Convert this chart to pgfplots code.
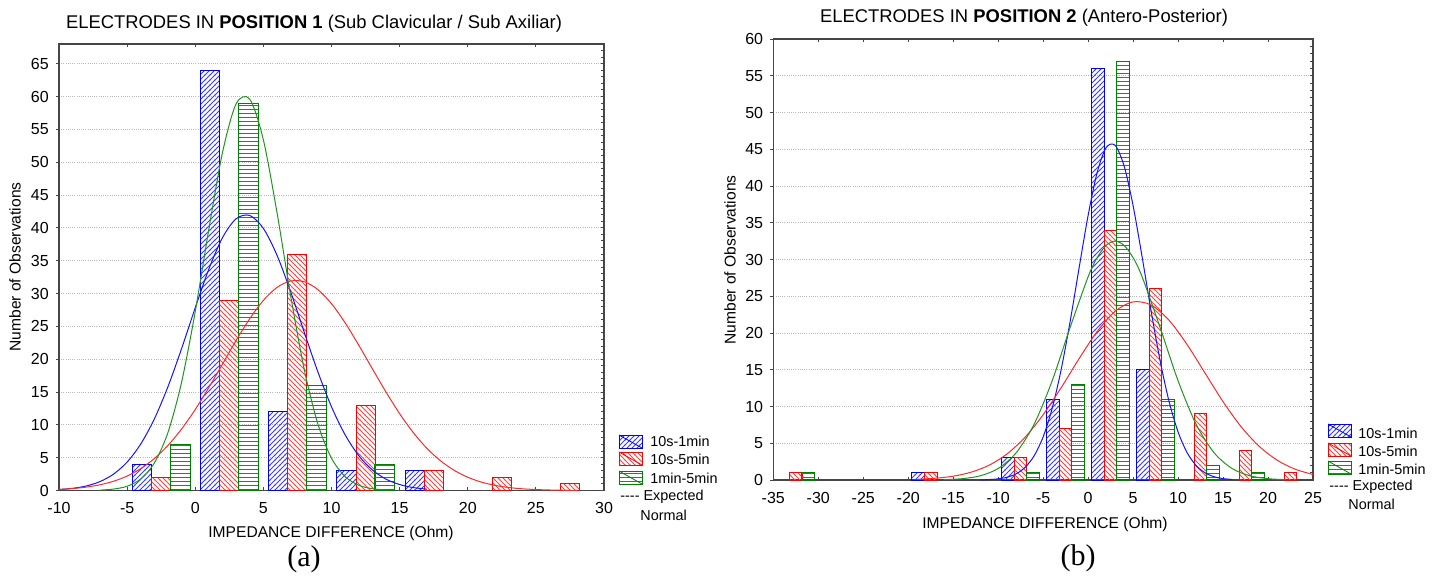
\documentclass[border=0pt]{standalone}
\usepackage{fontspec}
\setmainfont{Liberation Sans}
\newfontfamily\seriffont{Liberation Serif}
\usepackage{pgfplots}
\pgfplotsset{compat=1.18}
\usetikzlibrary{patterns}
\definecolor{sblue}{RGB}{0,0,255}
\definecolor{sred}{RGB}{255,0,0}
\definecolor{sgreen}{RGB}{0,128,0}
\definecolor{pblue}{RGB}{60,60,255}
\definecolor{pred}{RGB}{255,70,70}
\definecolor{pgreen}{RGB}{30,140,30}
\definecolor{cblue}{RGB}{20,20,255}
\definecolor{cred}{RGB}{255,40,40}
\definecolor{cgreen}{RGB}{30,150,30}
\definecolor{axgray}{RGB}{70,70,70}
\definecolor{gridgray}{RGB}{185,185,185}

% colour-baked hatch patterns
\pgfdeclarepatterninherentlycolored{hblue}{\pgfqpoint{-0.5pt}{-0.5pt}}{\pgfqpoint{3pt}{3pt}}{\pgfqpoint{2.5pt}{2.5pt}}{%
  \pgfsetcolor{pblue}\pgfsetlinewidth{0.4pt}%
  \pgfpathmoveto{\pgfqpoint{-0.3pt}{-0.3pt}}\pgfpathlineto{\pgfqpoint{2.8pt}{2.8pt}}\pgfusepath{stroke}}
\pgfdeclarepatterninherentlycolored{hred}{\pgfqpoint{-0.5pt}{-0.5pt}}{\pgfqpoint{3pt}{3pt}}{\pgfqpoint{2.5pt}{2.5pt}}{%
  \pgfsetcolor{pred}\pgfsetlinewidth{0.4pt}%
  \pgfpathmoveto{\pgfqpoint{-0.3pt}{2.8pt}}\pgfpathlineto{\pgfqpoint{2.8pt}{-0.3pt}}\pgfusepath{stroke}}
\pgfdeclarepatterninherentlycolored{hgreen}{\pgfqpoint{-0.2pt}{0pt}}{\pgfqpoint{2.2pt}{2pt}}{\pgfqpoint{2pt}{2pt}}{%
  \pgfsetcolor{pgreen}\pgfsetlinewidth{0.5pt}%
  \pgfpathmoveto{\pgfqpoint{-0.2pt}{1pt}}\pgfpathlineto{\pgfqpoint{2.2pt}{1pt}}\pgfusepath{stroke}}

\pgfplotsset{
  hist/.style={
    scale only axis,
    ymin=0,
    tick label style={font=\fontsize{8}{9}\selectfont},
    xticklabel style={yshift=-2.5pt},
    /pgf/number format/assume math mode=true,
    axis line style={axgray, line width=0.6pt},
    xtick pos=both, ytick pos=left,
    xtick align=inside, ytick align=outside,
    major tick length=1.6pt,
    tick style={axgray, line width=0.5pt},
    ymajorgrids,
    major grid style={gridgray, line width=0.5pt, dash pattern=on 0.5pt off 0.6pt},
    clip=true,
  },
  rticks/.style={
    scale only axis,
    axis line style={draw=none},
    xtick=\empty,
    ytick pos=right,
    yticklabels={},
    tick align=inside,
    major tick length=1.6pt,
    tick style={axgray, line width=0.5pt},
  },
  bblue/.style={ybar, bar width=1.4, bar shift=0pt, draw=sblue, line width=0.5pt, pattern=hblue},
  bred/.style={ybar, bar width=1.4, bar shift=0pt, draw=sred, line width=0.5pt, pattern=hred},
  bgreen/.style={ybar, bar width=1.45, bar shift=0pt, draw=sgreen, line width=0.5pt, pattern=hgreen},
}

\newcommand{\legbox}[4]{%
  \path[pattern=#3] (#1,#2) rectangle ++(11.5pt,-6.5pt);
  \draw[#4, line width=0.5pt] (#1,#2) rectangle ++(11.5pt,-6.5pt);
  \draw[#4, line width=0.4pt] (#1,#2) -- ++(11.5pt,-6.5pt);
}

\begin{document}
\begin{tikzpicture}
\useasboundingbox (0,0) rectangle (719.5pt,-287.5pt);

% ---------------- Panel (a) ----------------
\begin{axis}[hist, at={(29.5pt,-245.25pt)}, anchor=south west,
  width=272.5pt, height=223.25pt,
  xmin=-10, xmax=30, ymax=68,
  xtick={-10,-5,...,30}, ytick={0,5,...,65}]
\addplot[bblue] coordinates {(-3.9,4) (1.1,64) (6.1,12) (11.1,3) (16.1,3)};
\addplot[bred] coordinates {(-2.5,2) (2.5,29) (7.5,36) (12.5,13) (17.5,3) (22.5,2) (27.5,1)};
\addplot[bgreen] coordinates {(-1.1,7) (3.9,59) (8.9,16) (13.9,4)};
\addplot[cblue, line width=0.5pt, smooth, no markers] coordinates {
(-10,0.15)(-9,0.33)(-8,0.69)(-7,1.35)(-6,2.49)(-5,4.33)(-4,7.08)(-3,10.91)(-2,15.83)(-1,21.63)(0,27.84)(1,33.74)(2,38.51)(3,41.39)(4,41.89)(5,39.92)(6,35.83)(7,30.29)(8,24.10)(9,18.07)(10,12.75)(11,8.48)(12,5.31)(13,3.13)(14,1.73)(15,0.91)(16,0.45)(17,0.21)};
\addplot[cred, line width=0.5pt, smooth, no markers] coordinates {
(-10,0.16)(-9,0.30)(-8,0.52)(-7,0.87)(-6,1.41)(-5,2.20)(-4,3.33)(-3,4.87)(-2,6.88)(-1,9.37)(0,12.34)(1,15.69)(2,19.26)(3,22.85)(4,26.17)(5,28.95)(6,30.93)(7,31.91)(8,31.80)(9,30.60)(10,28.45)(11,25.54)(12,22.14)(13,18.54)(14,15.00)(15,11.71)(16,8.83)(17,6.43)(18,4.53)(19,3.08)(20,2.02)(21,1.28)(22,0.78)(23,0.46)(24,0.26)(25,0.15)(26,0.08)(27,0.04)(28,0.02)};
\addplot[cgreen, line width=0.5pt, smooth, no markers] coordinates {
(-7,0.06)(-6,0.22)(-5,0.65)(-4,1.76)(-3,4.20)(-2,8.85)(-1,16.52)(0,27.26)(1,39.83)(2,51.48)(3,58.89)(4,59.61)(5,53.40)(6,42.33)(7,29.70)(8,18.43)(9,10.13)(10,4.92)(11,2.12)(12,0.81)(13,0.27)(14,0.08)};
\end{axis}
\begin{axis}[rticks, at={(29.5pt,-245.25pt)}, anchor=south west,
  width=272.5pt, height=223.25pt,
  xmin=-10, xmax=30, ymin=0, ymax=68, ytick={0,1,...,68}]
\end{axis}

% ---------------- Panel (b) ----------------
\begin{axis}[hist, at={(386.65pt,-240pt)}, anchor=south west,
  width=269.85pt, height=220.5pt,
  xmin=-35, xmax=25, ymax=60,
  xtick={-35,-30,...,25}, ytick={0,5,...,60}]
\addplot[bblue] coordinates {(-18.9,1) (-8.9,3) (-3.9,11) (1.1,56) (6.1,15)};
\addplot[bred] coordinates {(-32.5,1) (-17.5,1) (-7.5,3) (-2.5,7) (2.5,34) (7.5,26) (12.5,9) (17.5,4) (22.5,1)};
\addplot[bgreen] coordinates {(-31.1,1) (-6.1,1) (-1.1,13) (3.9,57) (8.9,11) (13.9,2) (18.9,1)};
\addplot[cblue, line width=0.5pt, smooth, no markers] coordinates {
(-12,0.02)(-11,0.06)(-10,0.16)(-9,0.38)(-8,0.84)(-7,1.73)(-6,3.30)(-5,5.87)(-4,9.73)(-3,15.02)(-2,21.58)(-1,28.89)(0,36.01)(1,41.82)(2,45.22)(3,45.54)(4,42.72)(5,37.32)(6,30.37)(7,23.01)(8,16.24)(9,10.68)(10,6.54)(11,3.73)(12,1.98)(13,0.98)(14,0.45)(15,0.19)(16,0.08)};
\addplot[cred, line width=0.5pt, smooth, no markers] coordinates {
(-19,0.10)(-17,0.24)(-15,0.52)(-13,1.07)(-11,2.02)(-9,3.56)(-7,5.83)(-5,8.88)(-3,12.56)(-1,16.52)(1,20.20)(3,22.95)(5,24.24)(7,23.81)(9,21.73)(11,18.43)(13,14.54)(15,10.66)(17,7.26)(19,4.60)(21,2.71)(23,1.48)(25,0.75)};
\addplot[cgreen, line width=0.5pt, smooth, no markers] coordinates {
(-16,0.05)(-14,0.18)(-12,0.57)(-10,1.57)(-8,3.71)(-6,7.60)(-4,13.50)(-2,20.76)(0,27.66)(1,30.25)(2,31.92)(3,32.50)(4,31.92)(5,30.25)(6,27.66)(8,20.76)(10,13.50)(12,7.60)(14,3.71)(16,1.57)(18,0.57)(20,0.18)(22,0.05)};
\end{axis}
\begin{axis}[rticks, at={(386.65pt,-240pt)}, anchor=south west,
  width=269.85pt, height=220.5pt,
  xmin=-35, xmax=25, ymin=0, ymax=60, ytick={0,1,...,60}]
\end{axis}

% ---------------- Titles and labels ----------------
\node[font=\fontsize{9.2}{11}\selectfont] at (157pt,-11.75pt)
  {ELECTRODES IN \textbf{POSITION 1} (Sub Clavicular / Sub Axiliar)};
\node[font=\fontsize{9.2}{11}\selectfont] at (512pt,-8.75pt)
  {ELECTRODES IN \textbf{POSITION 2} (Antero-Posterior)};
\node[font=\fontsize{7.8}{9}\selectfont] at (165.5pt,-266.5pt) {IMPEDANCE DIFFERENCE (Ohm)};
\node[font=\fontsize{7.8}{9}\selectfont] at (522.5pt,-262pt) {IMPEDANCE DIFFERENCE (Ohm)};
\node[font=\fontsize{7.8}{9}\selectfont, rotate=90] at (7.5pt,-133.5pt) {Number of Observations};
\node[font=\fontsize{7.8}{9}\selectfont, rotate=90] at (365pt,-130pt) {Number of Observations};
\node[font=\seriffont\fontsize{15}{18}\selectfont] at (152pt,-279.5pt) {(a)};
\node[font=\seriffont\fontsize{15}{18}\selectfont] at (539pt,-279pt) {(b)};

% ---------------- Legends ----------------
\legbox{309.5pt}{-217.5pt}{hblue}{sblue}
\legbox{309.5pt}{-226pt}{hred}{sred}
\legbox{309.5pt}{-235.5pt}{hgreen}{sgreen}
\begin{scope}[every node/.style={font=\fontsize{7.2}{8.5}\selectfont, anchor=west, inner sep=0pt}]
\node at (325pt,-220.5pt) {10s-1min};
\node at (325pt,-229.5pt) {10s-5min};
\node at (325pt,-239pt) {1min-5min};
\node at (310pt,-248.5pt) {-{}-{}-{}- Expected};
\node at (320pt,-257.5pt) {Normal};
\end{scope}

\legbox{664pt}{-212pt}{hblue}{sblue}
\legbox{664pt}{-221.5pt}{hred}{sred}
\legbox{664pt}{-230.5pt}{hgreen}{sgreen}
\begin{scope}[every node/.style={font=\fontsize{7.2}{8.5}\selectfont, anchor=west, inner sep=0pt}]
\node at (679pt,-216.5pt) {10s-1min};
\node at (679pt,-225.5pt) {10s-5min};
\node at (679pt,-234.5pt) {1min-5min};
\node at (664.5pt,-243.5pt) {-{}-{}-{}- Expected};
\node at (674pt,-252pt) {Normal};
\end{scope}
\end{tikzpicture}
\end{document}
